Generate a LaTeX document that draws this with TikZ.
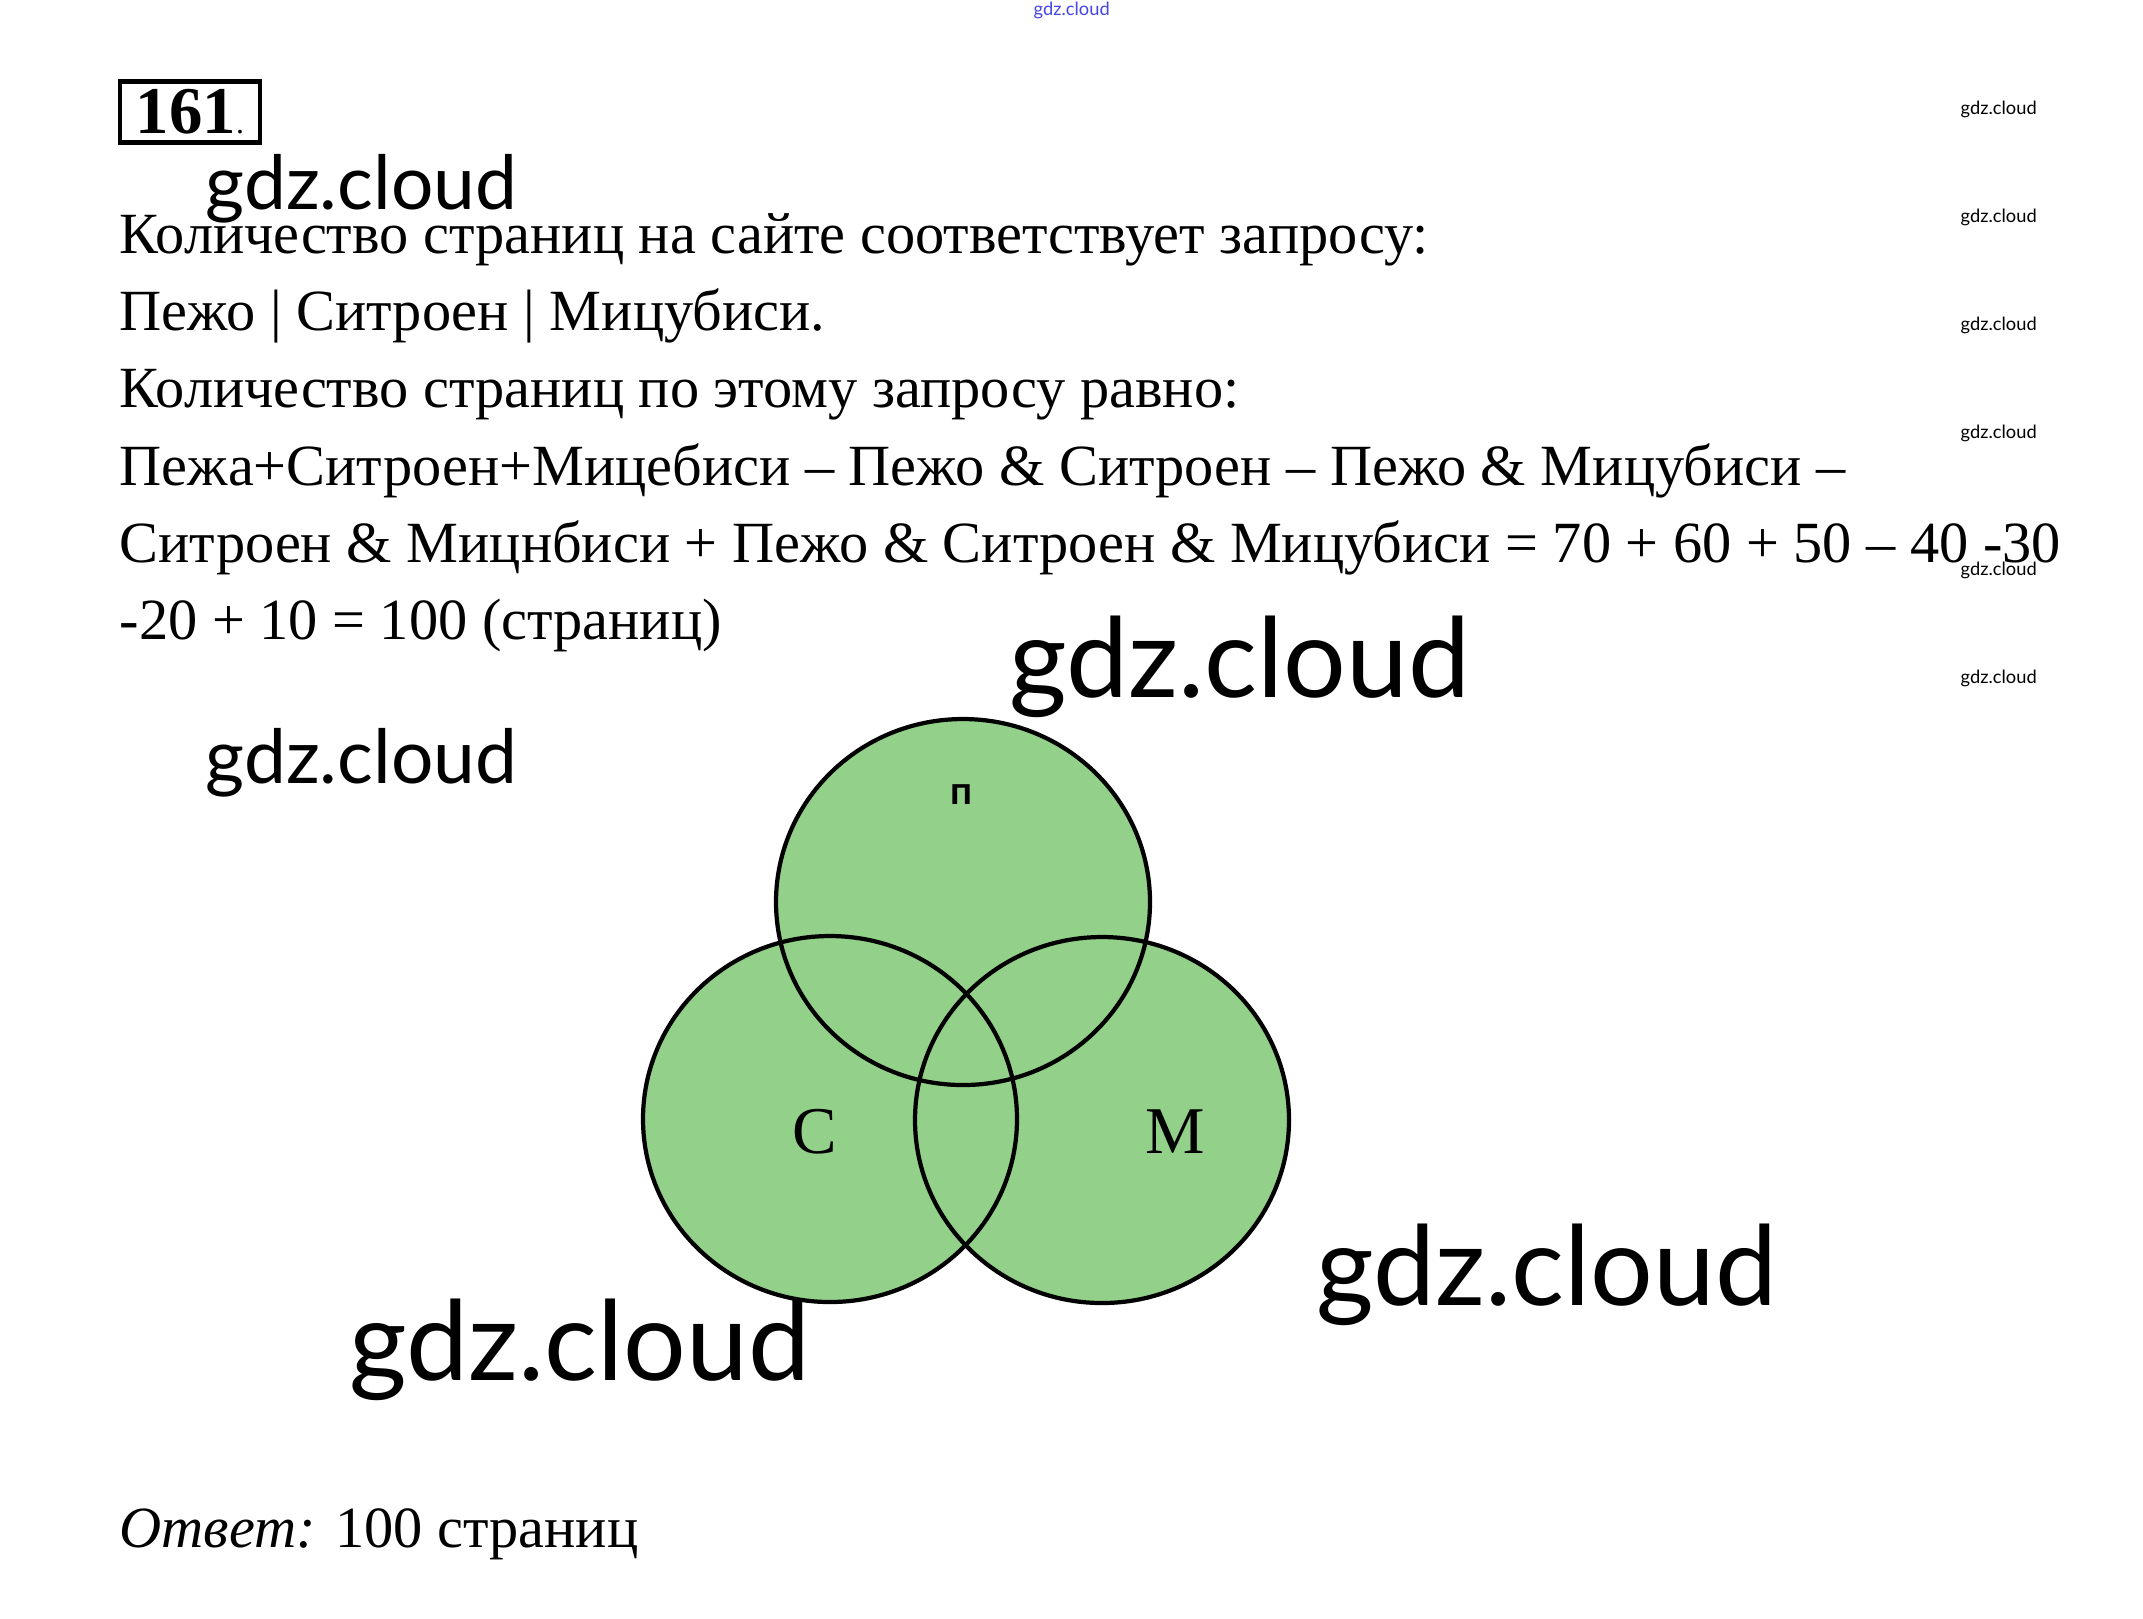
\documentclass[tikz,border=0pt]{standalone}
\usepackage{fontspec}
\setmainfont{Liberation Serif}
\newfontfamily\wmfont{Lato}
\definecolor{venngreen}{RGB}{147,208,137}
\definecolor{wmblue}{RGB}{70,70,230}
\tikzset{
    textline/.style={anchor=base west, inner sep=0pt, font=\fontsize{16.6}{20}\selectfont},
    wmbig/.style={anchor=base west, inner sep=0pt, font=\wmfont\fontsize{21.3}{24}\selectfont},
    wmhuge/.style={anchor=base west, inner sep=0pt, font=\wmfont\fontsize{31.5}{36}\selectfont},
    wmsmall/.style={anchor=base west, inner sep=0pt, font=\wmfont\fontsize{5.2}{6}\selectfont},
    venn/.style={fill=venngreen},
    vennline/.style={line width=1.2pt}
}
\begin{document}
\begin{tikzpicture}
    \useasboundingbox[fill=white] (0,0) rectangle (21.43,-16.18);

    % Problem number
    \node[draw, line width=1.3pt, minimum width=1.40cm, minimum height=0.61cm, inner sep=0pt,
          font=\fontsize{19}{20}\selectfont] (num) at (1.90,-1.12) {\textbf{161}{\small.}};

    % Solution text
    \node[textline] (l1) at (1.19,-2.53) {Количество страниц на сайте соответствует запросу:};
    \node[textline] (l2) at (1.19,-3.30) {Пежо | Ситроен | Мицубиси.};
    \node[textline] (l3) at (1.19,-4.07) {Количество страниц по этому запросу равно:};
    \node[textline] (l4) at (1.19,-4.85) {Пежа+Ситроен+Мицебиси – Пежо \& Ситроен – Пежо \& Мицубиси –};
    \node[textline] (l5) at (1.19,-5.62) {Ситроен \& Мицнбиси + Пежо \& Ситроен \& Мицубиси = 70 + 60 + 50 – 40 -30};
    \node[textline] (l6) at (1.19,-6.39) {-20 + 10 = 100 (страниц)};

    % Venn diagram: fill first, outlines on top
    \coordinate (P) at (9.63,-9.02);
    \coordinate (C) at (8.30,-11.19);
    \coordinate (M) at (11.02,-11.20);
    \foreach \c in {P,C,M} {
        \fill[venn] (\c) ellipse (1.87 and 1.83);
    }
    \foreach \c in {P,C,M} {
        \draw[vennline] (\c) ellipse (1.87 and 1.83);
    }
    \node[font=\wmfont\bfseries\fontsize{11}{12}\selectfont] (pl) at (9.61,-7.95) {п};
    \node[font=\fontsize{19}{20}\selectfont] (cl) at (8.15,-11.32) {С};
    \node[font=\fontsize{19}{20}\selectfont] (ml) at (11.75,-11.32) {М};

    % Answer
    \node[textline] (ans) at (1.19,-15.47) {\textit{Ответ:} 100 страниц};

    % Watermarks
    \node[wmbig] (w1) at (2.05,-2.09) {gdz.cloud};
    \node[wmbig] (w2) at (2.05,-7.83) {gdz.cloud};
    \node[wmhuge] (w3) at (10.09,-6.97) {gdz.cloud};
    \node[wmhuge] (w4) at (13.16,-13.05) {gdz.cloud};
    \node[wmhuge] (w5) at (3.49,-13.80) {gdz.cloud};
    \foreach \y [count=\i] in {1.14,2.22,3.30,4.38,5.75,6.83} {
        \node[wmsmall] (s\i) at (19.60,-\y) {gdz.cloud};
    }
    \node[wmsmall, text=wmblue] (top) at (10.33,-0.15) {gdz.cloud};
\end{tikzpicture}
\end{document}
